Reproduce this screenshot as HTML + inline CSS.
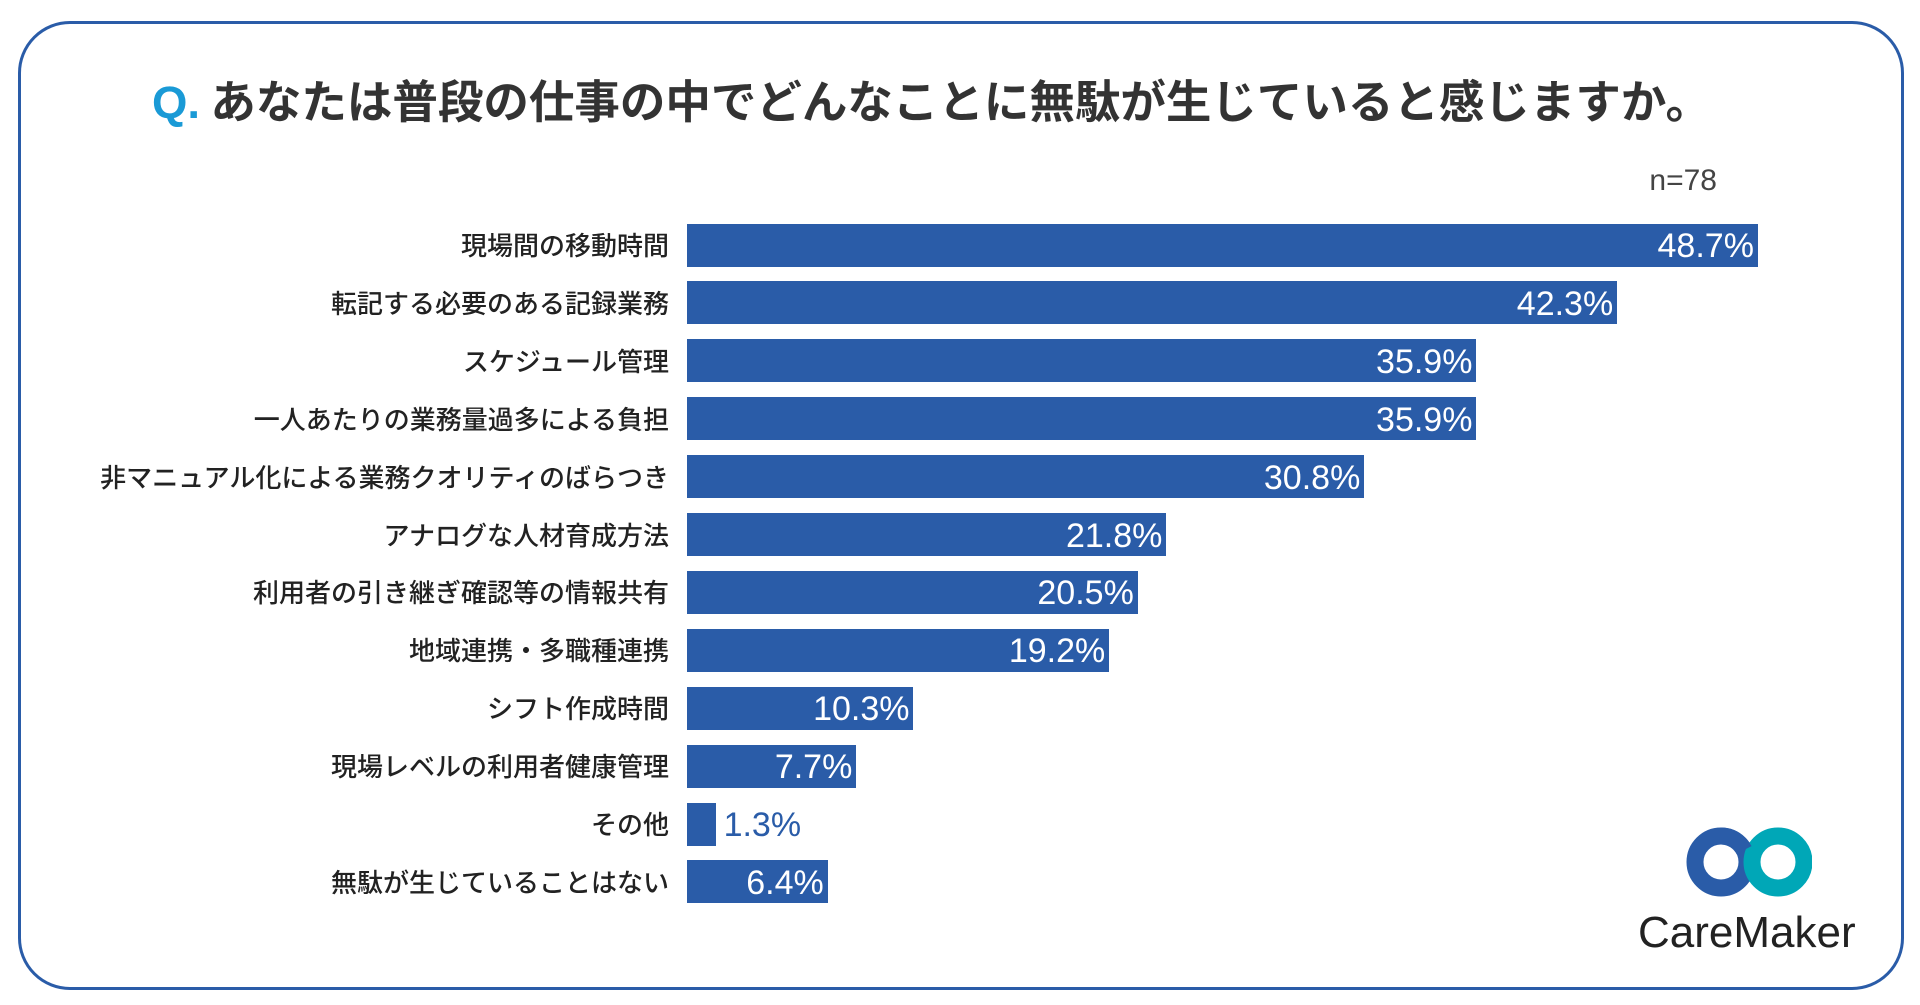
<!DOCTYPE html>
<html><head><meta charset="utf-8"><style>
body{margin:0;width:1920px;height:1005px;background:#fff;overflow:hidden;font-family:"Liberation Sans","Noto Sans CJK JP",sans-serif;}
#frame{position:absolute;left:18px;top:21px;width:1880px;height:963px;border:3px solid #2a5ca8;border-radius:52px;}
#title{position:absolute;left:152px;top:66px;font-size:45.5px;font-weight:bold;color:#333;white-space:nowrap;font-family:"Noto Sans CJK JP",sans-serif;}
#title .q{color:#1a9ad6;font-family:"Liberation Sans",sans-serif;}
#n{position:absolute;right:203px;top:164px;font-size:30px;color:#444;}
.lab{position:absolute;right:1251px;font-size:26px;font-weight:500;color:#222;white-space:nowrap;font-family:"Noto Sans CJK JP",sans-serif;}
.bar{position:absolute;left:687px;height:43px;background:#2a5ca8;}
.val{position:absolute;font-size:34px;color:#fff;white-space:nowrap;}
#logo-text{position:absolute;left:1638px;top:908px;font-size:44px;color:#222;font-family:"Liberation Sans",sans-serif;}
</style></head><body>
<div id="frame"></div>
<div id="title"><span class="q">Q.</span> あなたは普段の仕事の中でどんなことに無駄が生じていると感じますか。</div>
<div id="n">n=78</div>
<div id="chart"></div>
<svg style="position:absolute;left:1686px;top:826px" width="126" height="72">
<circle cx="35" cy="36" r="26" fill="none" stroke="#2a5ca8" stroke-width="17"/>
<circle cx="92" cy="36" r="26" fill="none" stroke="#00a7b7" stroke-width="17"/>
<path d="M35 10 A26 26 0 0 1 58 24" fill="none" stroke="#2a5ca8" stroke-width="17"/>
</svg>
<div id="logo-text">CareMaker</div>
<script>
const categories=["現場間の移動時間","転記する必要のある記録業務","スケジュール管理","一人あたりの業務量過多による負担","非マニュアル化による業務クオリティのばらつき","アナログな人材育成方法","利用者の引き継ぎ確認等の情報共有","地域連携・多職種連携","シフト作成時間","現場レベルの利用者健康管理","その他","無駄が生じていることはない"];
const values=[48.7,42.3,35.9,35.9,30.8,21.8,20.5,19.2,10.3,7.7,1.3,6.4];
const x0=687,pxPer=21.99,y0=245,step=57.9,bh=43;
const xs=v=>v*pxPer;
const body=document.body;
categories.forEach((c,i)=>{
  const cy=y0+i*step;
  const l=document.createElement('div');l.className='lab';l.textContent=c;l.style.top=(cy-19)+'px';
  
  
  body.appendChild(l);
  const w=xs(values[i]);
  const b=document.createElement('div');b.className='bar';b.style.top=(cy-bh/2)+'px';b.style.width=w+'px';
  
  
  body.appendChild(b);
  const t=document.createElement('div');t.className='val';t.textContent=values[i].toFixed(1)+'%';t.style.top=(cy-18)+'px';
  if(w>90){t.style.right=(1920-(x0+w)+4)+'px';}else{t.style.left=(x0+w+8)+'px';t.style.color='#2a5ca8';}
  
  
  body.appendChild(t);
});
</script>
</body></html>
